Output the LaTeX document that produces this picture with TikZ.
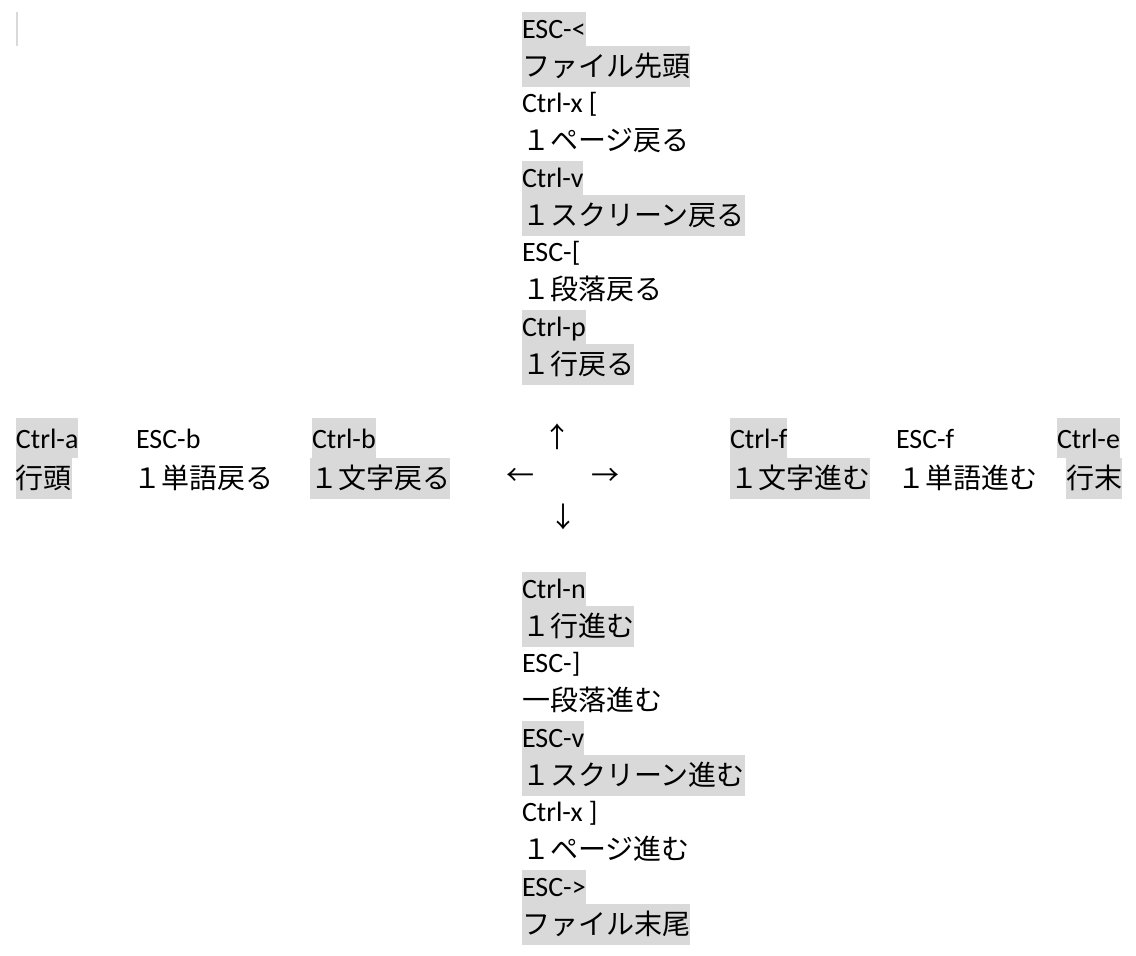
\documentclass[tikz,border=0pt]{standalone}
\usepackage{fontspec}
\setmainfont{Carlito}
\newfontfamily\jp{Noto Sans CJK JP}
\definecolor{hlgray}{RGB}{217,217,217}
\tikzset{
  every node/.style={inner sep=0pt, outer sep=0pt},
  lat/.style={anchor=base west, font=\fontsize{28}{34}\selectfont, text height=26pt, text depth=8pt},
  latrow/.style={anchor=base west, font=\fontsize{28}{34}\selectfont, text height=30pt, text depth=10pt},
  jpn/.style={anchor=base west, font=\jp\fontsize{28}{40}\selectfont, text height=30pt, text depth=10.5pt},
  hl/.style={fill=hlgray},
  arr/.style={anchor=center, font=\jp\fontsize{28}{34}\selectfont}
}
\begin{document}
\begin{tikzpicture}[x=1pt,y=-1pt]
\useasboundingbox (0,0) rectangle (1136,956);
% cursor mark
\node[fill=hlgray, minimum width=2pt, minimum height=34pt, anchor=north west] (cursor) at (16,12) {};
% upper column
\node[lat,hl] (escl) at (522,38) {ESC-<};
\node[jpn,hl] (fhead) at (522,76) {ファイル先頭};
\node[lat] (cxl) at (522,112.5) {Ctrl-x [};
\node[jpn] (pgb) at (522,150.5) {１ページ戻る};
\node[lat,hl] (cv) at (522,187) {Ctrl-v};
\node[jpn,hl] (scb) at (522,225) {１スクリーン戻る};
\node[lat] (escbr) at (522,261.5) {ESC-[};
\node[jpn] (parb) at (522,299.5) {１段落戻る};
\node[lat,hl] (cp) at (522,336) {Ctrl-p};
\node[jpn,hl] (lnb) at (522,374) {１行戻る};
% middle row
\node[latrow,hl] (ca) at (16,448) {Ctrl-a};
\node[jpn,hl] (lhead) at (16,488) {行頭};
\node[latrow] (escb) at (136,448) {ESC-b};
\node[jpn] (wb) at (133,488) {１単語戻る};
\node[latrow,hl] (cb) at (312,448) {Ctrl-b};
\node[jpn,hl] (chb) at (310,488) {１文字戻る};
\node[arr] (up) at (557,437) {↑};
\node[arr] (left) at (520,477) {←};
\node[arr] (right) at (605,477) {→};
\node[arr] (down) at (563,517) {↓};
\node[latrow,hl] (cf) at (730,448) {Ctrl-f\hspace{6pt}};
\node[jpn,hl] (chf) at (730,488) {１文字進む};
\node[latrow] (escf) at (896,448) {ESC-f};
\node[jpn] (wf) at (897,488) {１単語進む};
\node[latrow,hl] (ce) at (1057,448) {Ctrl-e};
\node[jpn,hl] (ltail) at (1066,488) {行末};
% lower column
\node[lat,hl] (cn) at (522,598) {Ctrl-n};
\node[jpn,hl] (lnf) at (522,636) {１行進む};
\node[lat] (escbrr) at (522,672.5) {ESC-]};
\node[jpn] (parf) at (522,710.5) {一段落進む};
\node[lat,hl] (escv) at (522,747) {ESC-v};
\node[jpn,hl] (scf) at (522,785) {１スクリーン進む};
\node[lat] (cxr) at (522,821.5) {Ctrl-x ]};
\node[jpn] (pgf) at (522,859.5) {１ページ進む};
\node[lat,hl] (escg) at (522,896) {ESC->};
\node[jpn,hl] (ftail) at (522,934) {ファイル末尾};
\end{tikzpicture}
\end{document}
